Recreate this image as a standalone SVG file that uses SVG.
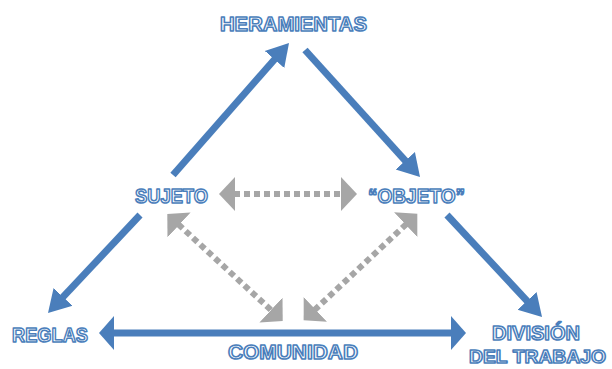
<svg xmlns="http://www.w3.org/2000/svg" width="612" height="369" viewBox="0 0 612 369">
  <style>
    .lbl { font-family: "Liberation Sans", Arial, sans-serif; font-weight: bold; font-size: 21px; fill: #ffffff; stroke: #4a7ebb; stroke-width: 1.6px; stroke-linejoin: round; }
    .lbl.small { font-size: 19px; }
    .blue { stroke: #4a7ebb; stroke-width: 7; fill: none; }
    .gray { stroke: #a6a6a6; stroke-width: 6; fill: none; stroke-dasharray: 6 4; }
  </style>
  <defs>
    <marker id="headBlue" markerUnits="userSpaceOnUse" markerWidth="26" markerHeight="30" viewBox="0 -15 26 30" refX="2" refY="0" orient="auto">
      <path d="M0,-13 L22,0 L0,13 Z" fill="#4a7ebb"/>
    </marker>
    <marker id="headBlueH" markerUnits="userSpaceOnUse" markerWidth="20" markerHeight="38" viewBox="0 -19 20 38" refX="2" refY="0" orient="auto-start-reverse">
      <path d="M0,-17 L15,0 L0,17 Z" fill="#4a7ebb"/>
    </marker>
    <marker id="headGray" markerUnits="userSpaceOnUse" markerWidth="20" markerHeight="38" viewBox="0 -19 20 38" refX="1" refY="0" orient="auto-start-reverse">
      <path d="M0,-17 L16,0 L0,17 Z" fill="#a6a6a6"/>
    </marker>
  </defs>

  <g id="connectors">
    <!-- outer activity triangle -->
    <line class="blue" x1="173" y1="175" x2="275.8" y2="58" marker-end="url(#headBlue)"/>
    <line class="blue" x1="305" y1="50" x2="406.6" y2="162.2" marker-end="url(#headBlue)"/>
    <line class="blue" x1="140" y1="215" x2="61.7" y2="298.4" marker-end="url(#headBlue)"/>
    <line class="blue" x1="447" y1="215" x2="528.4" y2="302.4" marker-end="url(#headBlue)"/>
    <line class="blue" x1="112" y1="333" x2="453" y2="333" marker-start="url(#headBlueH)" marker-end="url(#headBlueH)"/>
    <!-- inner dotted relations -->
    <line class="gray" x1="234" y1="194" x2="342" y2="194" marker-start="url(#headGray)" marker-end="url(#headGray)"/>
    <line class="gray" x1="178.3" y1="224.3" x2="271.7" y2="310.7" marker-start="url(#headGray)" marker-end="url(#headGray)"/>
    <line class="gray" x1="406.4" y1="224" x2="314.6" y2="310" marker-start="url(#headGray)" marker-end="url(#headGray)"/>
  </g>

  <g id="heramientas">
    <text class="lbl" x="220" y="31" textLength="147" lengthAdjust="spacingAndGlyphs">HERAMIENTAS</text>
  </g>
  <g id="sujeto">
    <text class="lbl" x="135" y="203" textLength="73" lengthAdjust="spacingAndGlyphs">SUJETO</text>
  </g>
  <g id="objeto">
    <text class="lbl" x="368" y="203" textLength="97" lengthAdjust="spacingAndGlyphs">“OBJETO”</text>
  </g>
  <g id="reglas">
    <text class="lbl" x="12" y="342" textLength="76" lengthAdjust="spacingAndGlyphs">REGLAS</text>
  </g>
  <g id="comunidad">
    <text class="lbl" x="228" y="359" textLength="130" lengthAdjust="spacingAndGlyphs">COMUNIDAD</text>
  </g>
  <g id="division">
    <text class="lbl" x="492" y="340" textLength="88" lengthAdjust="spacingAndGlyphs">DIVISIÓN</text>
    <text class="lbl small" x="469" y="363" textLength="137" lengthAdjust="spacingAndGlyphs">DEL TRABAJO</text>
  </g>
</svg>
